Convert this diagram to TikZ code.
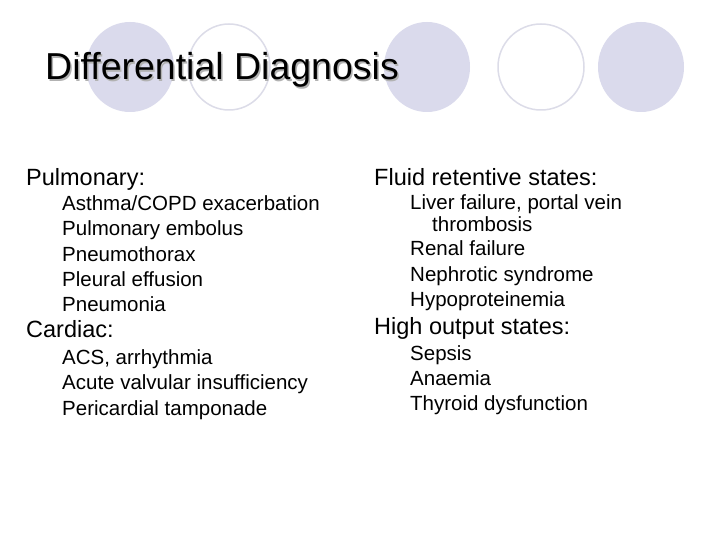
\documentclass[tikz,border=0pt]{standalone}
\usepackage{fontspec}
\setmainfont{Liberation Sans}
\begin{document}
\begin{tikzpicture}[x=1pt,y=-1pt,
  fc/.style={fill=lav,draw=none},
  oc/.style={draw=lavline,line width=1.5pt},
  head/.style={anchor=base west,font=\fontsize{23.5}{25}\selectfont,inner sep=0},
  item/.style={anchor=base west,font=\fontsize{20.5}{22}\selectfont,inner sep=0,align=left},
  ttl/.style={anchor=base west,font=\fontsize{37.5}{40}\selectfont,inner sep=0}]
\definecolor{lav}{RGB}{218,218,236}
\definecolor{lavline}{RGB}{220,220,232}
\useasboundingbox (0,0) rectangle (720,540);
\fill[white] (0,0) rectangle (720,540);
\fill[fc] (130,67) ellipse (44 and 45);
\draw[oc] (229,67) ellipse (41 and 43);
\fill[fc] (427,67) ellipse (43 and 45);
\draw[oc] (541,67) ellipse (43 and 43);
\fill[fc] (641,67) ellipse (43 and 45);
\node[ttl,text=gray!60] (ts) at (46.5,81.5) {Differential Diagnosis};
\node[ttl] (t) at (45,80) {Differential Diagnosis};
\node[head] (p) at (26,186) {Pulmonary:};
\node[item] (p1) at (62,211) {Asthma/COPD exacerbation};
\node[item] (p2) at (62,236) {Pulmonary embolus};
\node[item] (p3) at (62,261) {Pneumothorax};
\node[item] (p4) at (62,286) {Pleural effusion};
\node[item] (p5) at (62,311) {Pneumonia};
\node[head] (c) at (26,337) {Cardiac:};
\node[item] (c1) at (62,364) {ACS, arrhythmia};
\node[item] (c2) at (62,389) {Acute valvular insufficiency};
\node[item] (c3) at (62,415) {Pericardial tamponade};
\node[head] (f) at (374,186) {Fluid retentive states:};
\node[item] (f1) at (410,210) {Liver failure, portal vein};
\node[item] (f1b) at (432,231) {thrombosis};
\node[item] (f2) at (410,255) {Renal failure};
\node[item] (f3) at (410,281) {Nephrotic syndrome};
\node[item] (f4) at (410,306) {Hypoproteinemia};
\node[head] (h) at (374,334) {High output states:};
\node[item] (h1) at (410,360) {Sepsis};
\node[item] (h2) at (410,385) {Anaemia};
\node[item] (h3) at (410,410) {Thyroid dysfunction};
\end{tikzpicture}
\end{document}
